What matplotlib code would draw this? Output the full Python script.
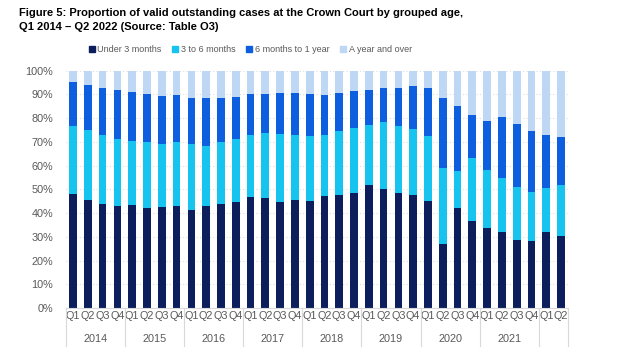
import matplotlib
matplotlib.use('Agg')
import matplotlib.pyplot as plt
from matplotlib.patches import Patch
from matplotlib.transforms import blended_transform_factory

# quarters Q1 2014 - Q2 2022
years = ["2014", "2015", "2016", "2017", "2018", "2019", "2020", "2021", ""]
quarters = ["Q1", "Q2", "Q3", "Q4"] * 8 + ["Q1", "Q2"]

# cumulative tops (%)
under_3m = [48.1, 45.6, 43.9, 42.8, 43.6, 42.1, 42.4, 43.1, 41.2, 43.1, 43.9, 44.6,
            46.7, 46.3, 44.7, 45.6, 45.2, 47.0, 47.8, 48.5, 52.0, 50.1, 48.5, 47.5,
            44.9, 26.8, 42.2, 36.6, 33.9, 32.0, 28.6, 28.3, 32.0, 30.2]
top_6m = [76.9, 75.0, 72.9, 71.2, 70.5, 69.8, 69.0, 70.1, 69.0, 68.3, 70.1, 71.1,
          72.9, 73.6, 73.2, 72.9, 72.3, 72.9, 74.5, 75.9, 77.3, 78.4, 76.9, 75.5,
          72.4, 58.8, 57.9, 63.4, 58.2, 54.7, 51.2, 48.8, 50.6, 51.9]
top_1y = [95.2, 94.2, 92.8, 91.9, 91.0, 90.2, 89.5, 89.8, 88.5, 88.6, 88.5, 88.9,
          90.2, 90.2, 90.5, 90.5, 90.2, 89.9, 90.5, 91.3, 92.0, 92.7, 92.8, 93.5,
          92.6, 88.4, 85.3, 81.3, 79.0, 80.6, 77.4, 74.8, 72.9, 71.9]

labels = ["Under 3 months", "3 to 6 months", "6 months to 1 year", "A year and over"]
colors = ["#0C1F5C", "#17C3EF", "#0D5FE0", "#BDD7F5"]

x = list(range(len(quarters)))
s1 = under_3m
s2 = [b - a for a, b in zip(under_3m, top_6m)]
s3 = [b - a for a, b in zip(top_6m, top_1y)]
s4 = [100 - a for a in top_1y]

fig = plt.figure(figsize=(6.34, 3.52), dpi=100)
plt.rcParams['font.family'] = ['Liberation Sans', 'DejaVu Sans']
ax = fig.add_axes([0.1036, 0.125, 0.793, 0.674])

bottom = [0] * len(x)
for vals, c in zip([s1, s2, s3, s4], colors):
    ax.bar(x, vals, bottom=bottom, width=0.52, color=c, zorder=2)
    bottom = [b + v for b, v in zip(bottom, vals)]

ax.set_xlim(-0.5, len(x) - 0.5)
ax.set_ylim(0, 100)
ax.set_yticks(range(0, 101, 10))
ax.set_yticklabels([f"{v}%" for v in range(0, 101, 10)], fontsize=7.8, color="#595959")
ax.set_xticks(x)
ax.set_xticklabels(quarters, fontsize=7.8, color="#595959")
ax.tick_params(axis='both', length=0)
ax.tick_params(axis='y', pad=9)
ax.tick_params(axis='x', pad=2)
ax.yaxis.grid(True, linestyle=(0, (1, 2)), color="#E0DCD4", linewidth=0.8, zorder=0)
for sp in ["top", "right", "left"]:
    ax.spines[sp].set_visible(False)
ax.spines["bottom"].set_color("#D9D9D9")

# year group separators and labels
tr = blended_transform_factory(ax.transData, ax.transAxes)
edges = [-0.5 + 4 * k for k in range(9)] + [len(x) - 0.5]
for e in edges:
    ax.plot([e, e], [0, -0.16], transform=tr, color="#D9D9D9", linewidth=0.8, clip_on=False)
for k, yr in enumerate(years):
    if yr:
        ax.text(1.5 + 4 * k, -0.13, yr, transform=tr, ha="center", va="center",
                fontsize=7.8, color="#595959")

fig.text(0.03, 0.978, "Figure 5: Proportion of valid outstanding cases at the Crown Court by grouped age,\nQ1 2014 \u2013 Q2 2022 (Source: Table O3)",
         ha="left", va="top", fontsize=8.0, fontweight="bold", linespacing=1.5)

handles = [Patch(color=c, label=l) for c, l in zip(colors, labels)]
fig.legend(handles=handles, loc="center", bbox_to_anchor=(0.395, 0.858), ncol=4,
           frameon=False, fontsize=6.5, handlelength=0.65, handleheight=0.65,
           handletextpad=0.3, columnspacing=1.2, labelcolor="#595959")

fig.savefig("out.png", dpi=100)
